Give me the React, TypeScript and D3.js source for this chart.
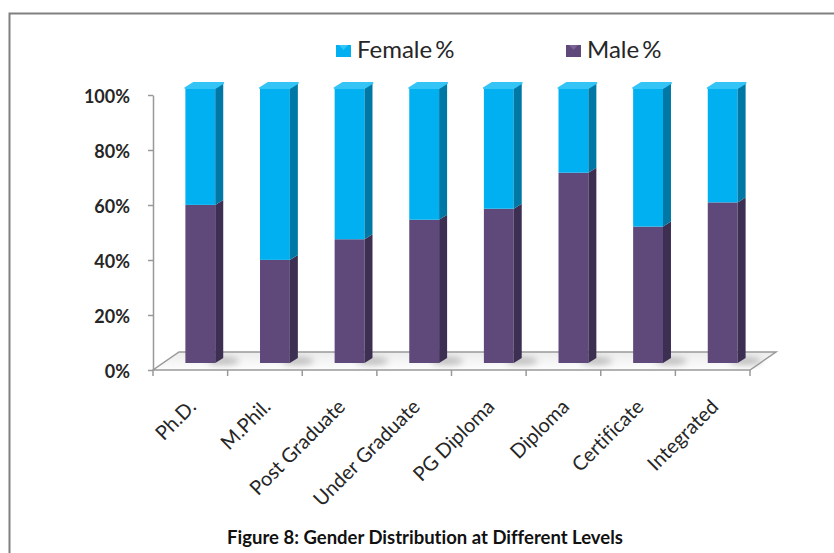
import { useEffect, useRef } from 'react';
import { select, scaleBand, scaleLinear, axisLeft, stack } from 'd3';

const categories = [
  'Ph.D.',
  'M.Phil.',
  'Post Graduate',
  'Under Graduate',
  'PG Diploma',
  'Diploma',
  'Certificate',
  'Integrated',
];
const malePct = [57.5, 37.5, 45, 52.1, 56.1, 69.2, 49.6, 58.4];
const femalePct = [42.5, 62.5, 55, 47.9, 43.9, 30.8, 50.4, 41.6];
const yTicks = [0, 20, 40, 60, 80, 100];
const seriesNames = ['Male %', 'Female %'];

const colors = {
  male: { front: '#5f497a', side: '#3d2f52', top: '#7a6494' },
  female: { front: '#00b0f0', side: '#0078a6', top: '#34c4f6' },
  axis: '#999999',
  text: '#262626',
};

const FONT = 'Lato, "Open Sans", sans-serif';

export default function App() {
  const svgRef = useRef<SVGSVGElement>(null);

  useEffect(() => {
    if (!svgRef.current) return;
    const svg = select(svgRef.current);
    svg.selectAll('*').remove();

    const width = 834;
    const height = 553;
    svg.attr('width', width).attr('height', height);

    const plot = { left: 153, right: 750, top: 95, bottom: 370 };
    // 3D depth of the floor and the offset of the bars into it
    const depth = { dx: 26, dy: -18 };
    const barShift = { dx: 10, dy: -7 };
    const side = { dx: 8, dy: -5 };

    const defs = svg.append('defs');
    const floorGrad = defs
      .append('linearGradient')
      .attr('id', 'floorGrad')
      .attr('x1', 0)
      .attr('y1', 0)
      .attr('x2', 0)
      .attr('y2', 1);
    floorGrad.append('stop').attr('offset', '0%').attr('stop-color', '#ececec');
    floorGrad.append('stop').attr('offset', '100%').attr('stop-color', '#fdfdfd');
    const blur = defs
      .append('filter')
      .attr('id', 'shadowBlur')
      .attr('x', '-50%')
      .attr('y', '-50%')
      .attr('width', '200%')
      .attr('height', '200%');
    blur.append('feGaussianBlur').attr('stdDeviation', 3);

    // frame
    svg
      .append('path')
      .attr('d', `M9.5,${height} L9.5,13.5 L${width},13.5`)
      .attr('fill', 'none')
      .attr('stroke', '#808080')
      .attr('stroke-width', 2);

    const x = scaleBand<string>().domain(categories).range([plot.left, plot.right]).padding(0);
    const y = scaleLinear().domain([0, 100]).range([plot.bottom, plot.top]);
    const barW = x.bandwidth() * 0.4;

    // floor
    svg
      .append('path')
      .attr(
        'd',
        `M${plot.left},${plot.bottom} L${plot.right},${plot.bottom} L${plot.right + depth.dx},${plot.bottom + depth.dy} L${plot.left + depth.dx},${plot.bottom + depth.dy} Z`
      )
      .attr('fill', 'url(#floorGrad)')
      .attr('stroke', colors.axis)
      .attr('stroke-width', 1.5);

    // bar shadows on the floor
    svg
      .append('g')
      .selectAll('ellipse')
      .data(categories)
      .enter()
      .append('ellipse')
      .attr('cx', (d) => (x(d) || 0) + x.bandwidth() / 2 + barShift.dx + barW / 2 + 8)
      .attr('cy', plot.bottom + barShift.dy - 2)
      .attr('rx', 16)
      .attr('ry', 4)
      .attr('fill', '#9a9a9a')
      .attr('opacity', 0.6)
      .attr('filter', 'url(#shadowBlur)');

    // y axis
    const yAxis = axisLeft(y)
      .tickValues(yTicks)
      .tickFormat((d) => `${d}%`)
      .tickSize(5)
      .tickSizeOuter(0)
      .tickPadding(18);
    const yg = svg.append('g').attr('transform', `translate(${plot.left},0)`).call(yAxis);
    yg.select('.domain').attr('stroke', colors.axis).attr('stroke-width', 1.5);
    yg.selectAll('.tick line').attr('stroke', colors.axis).attr('stroke-width', 1.5);
    yg.selectAll('.tick text')
      .attr('fill', colors.text)
      .style('font-family', FONT)
      .style('font-weight', 'bold')
      .style('font-size', '18px')
      .attr('dy', '0.4em');

    // x ticks at category boundaries
    const bounds = categories.map((c) => x(c) || 0).concat([plot.right]);
    svg
      .append('g')
      .selectAll('line')
      .data(bounds)
      .enter()
      .append('line')
      .attr('x1', (d) => d)
      .attr('x2', (d) => d)
      .attr('y1', plot.bottom)
      .attr('y2', plot.bottom + 6)
      .attr('stroke', colors.axis)
      .attr('stroke-width', 1.5);

    // stacked 3D bars
    const rows = categories.map((c, i) => ({ cat: c, male: malePct[i], female: femalePct[i] }));
    const stacked = stack<{ cat: string; male: number; female: number }>().keys(['male', 'female'])(rows);

    const barsG = svg.append('g');
    stacked.forEach((layer) => {
      const col = layer.key === 'male' ? colors.male : colors.female;
      layer.forEach((seg) => {
        const cat = seg.data.cat;
        const x0 = (x(cat) || 0) + x.bandwidth() / 2 + barShift.dx - barW / 2;
        const yTop = y(seg[1]) + barShift.dy;
        const yBot = y(seg[0]) + barShift.dy;
        const g = barsG.append('g');
        g.append('rect')
          .attr('x', x0)
          .attr('y', yTop)
          .attr('width', barW)
          .attr('height', yBot - yTop)
          .attr('fill', col.front);
        g.append('path')
          .attr(
            'd',
            `M${x0 + barW},${yTop} L${x0 + barW + side.dx},${yTop + side.dy} L${x0 + barW + side.dx},${yBot + side.dy} L${x0 + barW},${yBot} Z`
          )
          .attr('fill', col.side);
        if (layer.key === 'female') {
          g.append('path')
            .attr(
              'd',
              `M${x0},${yTop} L${x0 + side.dx},${yTop + side.dy} L${x0 + barW + side.dx},${yTop + side.dy} L${x0 + barW},${yTop} Z`
            )
            .attr('fill', col.top)
            .attr('stroke', col.top)
            .attr('stroke-linejoin', 'round')
            .attr('stroke-width', 2);
        }
      });
    });

    // x labels
    svg
      .append('g')
      .selectAll('text')
      .data(categories)
      .enter()
      .append('text')
      .attr('transform', (d) => `translate(${(x(d) || 0) + x.bandwidth() / 2 + 7},${plot.bottom + 38}) rotate(-45)`)
      .attr('text-anchor', 'end')
      .attr('fill', colors.text)
      .style('font-family', FONT)
      .style('font-size', '20px')
      .style('font-variant-ligatures', 'none')
      .text((d) => d);

    // legend
    const legendItems = [
      { name: seriesNames[1], col: colors.female, x: 336 },
      { name: seriesNames[0], col: colors.male, x: 566 },
    ];
    const lg = svg.append('g');
    legendItems.forEach((it) => {
      lg.append('rect').attr('x', it.x).attr('y', 45).attr('width', 15).attr('height', 12).attr('fill', it.col.front);
      lg.append('path')
        .attr('d', `M${it.x + 3},45 L${it.x + 12},45 L${it.x + 7.5},50 Z`)
        .attr('fill', it.col.top);
      lg.append('text')
        .attr('x', it.x + 21)
        .attr('y', 58)
        .attr('fill', colors.text)
        .style('font-family', FONT)
        .style('font-size', '24px')
        .style('word-spacing', '-3px')
        .text(it.name);
    });

    // caption
    svg
      .append('text')
      .attr('x', 425)
      .attr('y', 544)
      .attr('text-anchor', 'middle')
      .attr('fill', '#111')
      .style('font-family', FONT)
      .style('font-weight', 'bold')
      .style('font-size', '18.5px')
      .style('font-variant-ligatures', 'none')
      .text('Figure 8: Gender Distribution at Different Levels');
  }, []);

  return (
    <div style={{ position: 'absolute', left: 0, top: 0, background: '#fff' }}>
      <svg ref={svgRef} style={{ display: 'block' }} />
    </div>
  );
}
